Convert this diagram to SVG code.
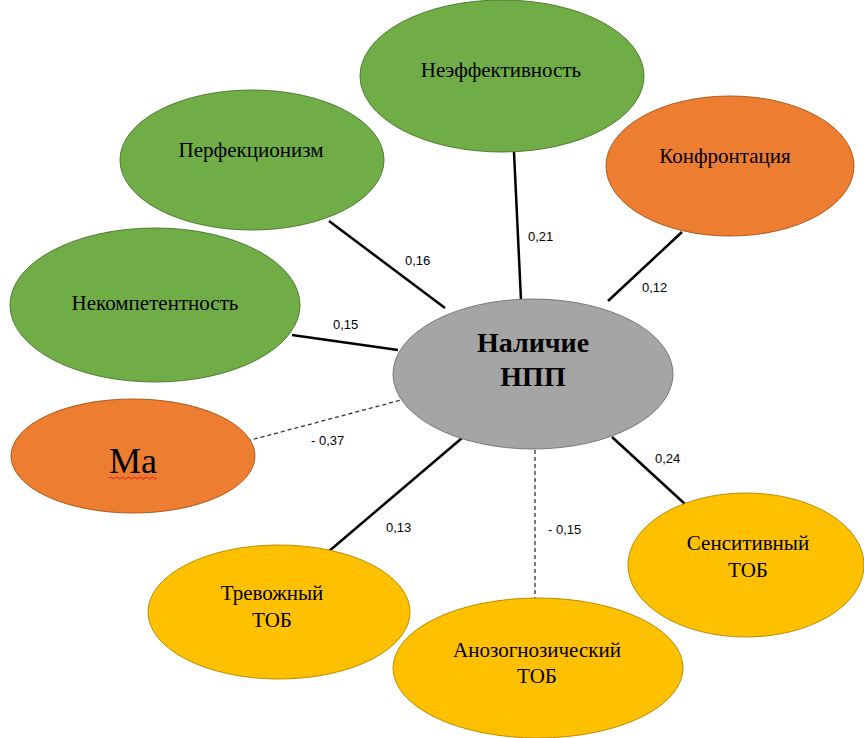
<svg xmlns="http://www.w3.org/2000/svg" width="864" height="738" viewBox="0 0 864 738">
<style>
.n{font-family:"Liberation Serif","Times New Roman",serif;font-size:21px;fill:#000;text-anchor:middle}
.c{font-family:"Liberation Serif","Times New Roman",serif;font-size:28px;font-weight:bold;fill:#000;text-anchor:middle}
.l{font-family:"Liberation Sans",Arial,sans-serif;font-size:13px;fill:#000}
.e{stroke:#000;stroke-width:2.5;fill:none}
.d{stroke:#333;stroke-width:1.3;fill:none;stroke-dasharray:4 3}
.g{fill:#70AD47;stroke:#507E32;stroke-width:1}
.o{fill:#ED7D31;stroke:#AE5A21;stroke-width:1}
.y{fill:#FFC000;stroke:#BC8C00;stroke-width:1}
.m{fill:#A5A5A5;stroke:#787878;stroke-width:1}
</style>
<rect width="864" height="738" fill="#fff"/>
<g id="connectors">
<line class="e" x1="329" y1="221" x2="445" y2="308"/>
<line class="e" x1="514" y1="152" x2="521" y2="300"/>
<line class="e" x1="682" y1="232" x2="608" y2="301"/>
<line class="e" x1="292" y1="335" x2="398" y2="350"/>
<line class="d" x1="247" y1="441" x2="405" y2="399"/>
<line class="e" x1="328" y1="552" x2="462" y2="438"/>
<line class="d" x1="535" y1="450" x2="535" y2="600"/>
<line class="e" x1="612" y1="437" x2="686" y2="505"/>
<text class="l" x="405" y="265">0,16</text>
<text class="l" x="528" y="241">0,21</text>
<text class="l" x="642" y="292">0,12</text>
<text class="l" x="333" y="329">0,15</text>
<text class="l" x="311" y="445">- 0,37</text>
<text class="l" x="386" y="532">0,13</text>
<text class="l" x="548" y="534">- 0,15</text>
<text class="l" x="655" y="463">0,24</text>
</g>
<g id="node-neeff"><ellipse class="g" cx="502" cy="76" rx="142" ry="76"/><text class="n" x="501" y="77">Неэффективность</text></g>
<g id="node-perf"><ellipse class="g" cx="252" cy="160" rx="132" ry="70"/><text class="n" x="251" y="157">Перфекционизм</text></g>
<g id="node-konf"><ellipse class="o" cx="730" cy="166" rx="124" ry="70"/><text class="n" x="725" y="163">Конфронтация</text></g>
<g id="node-nekomp"><ellipse class="g" cx="155" cy="305" rx="145" ry="77"/><text class="n" x="155" y="310">Некомпетентность</text></g>
<g id="node-ma"><ellipse class="o" cx="133" cy="456" rx="122" ry="57"/><text class="n" x="133" y="473" style="font-size:36px">Ma</text>
<path d="M109 478 q1.5 -2 3 0 t3 0 t3 0 t3 0 t3 0 t3 0 t3 0 t3 0 t3 0 t3 0 t3 0 t3 0 t3 0 t3 0 t3 0 t3 0" fill="none" stroke="#E02020" stroke-width="1"/></g>
<g id="node-center"><ellipse class="m" cx="533" cy="374" rx="140" ry="75"/><text class="c" x="533" y="352">Наличие</text><text class="c" x="533" y="386">НПП</text></g>
<g id="node-trev"><ellipse class="y" cx="279" cy="612" rx="131" ry="67"/><text class="n" x="272" y="600">Тревожный</text><text class="n" x="272" y="627">ТОБ</text></g>
<g id="node-anoz"><ellipse class="y" cx="538" cy="668" rx="145" ry="70"/><text class="n" x="537" y="657">Анозогнозический</text><text class="n" x="537" y="683">ТОБ</text></g>
<g id="node-sens"><ellipse class="y" cx="746" cy="565" rx="118" ry="72"/><text class="n" x="748" y="550">Сенситивный</text><text class="n" x="748" y="577">ТОБ</text></g>
</svg>
